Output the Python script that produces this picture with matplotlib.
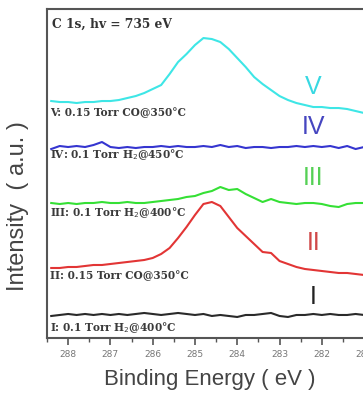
import numpy as np
import matplotlib.pyplot as plt

# binding energy grid (eV)
energy = [288.4, 288.2, 288.0, 287.8, 287.6, 287.4, 287.2, 287.0, 286.8, 286.6,
          286.4, 286.2, 286.0, 285.8, 285.6, 285.4, 285.2, 285.0, 284.8, 284.6,
          284.4, 284.2, 284.0, 283.8, 283.6, 283.4, 283.2, 283.0, 282.8, 282.6,
          282.4, 282.2, 282.0, 281.8, 281.6, 281.4, 281.2, 281.0, 280.8]

# stacked intensities (a.u., offsets included)
spec_v = [237, 236, 236, 235, 236, 236, 237, 237, 238, 240, 242, 245, 249, 253, 264,
          276, 284, 293, 300, 299, 296, 289, 280, 271, 261, 254, 248, 242, 238, 235,
          233, 231, 231, 230, 230, 229, 227, 225, 224]
spec_iv = [189, 192, 191, 192, 191, 193, 196, 191, 190, 191, 190, 191, 191, 192, 191,
           192, 191, 191, 192, 191, 193, 191, 192, 190, 191, 191, 190, 191, 191, 192,
           191, 192, 191, 192, 190, 192, 189, 191, 190]
spec_iii = [135, 134, 135, 134, 135, 135, 136, 135, 135, 136, 135, 135, 136, 137, 138,
            139, 141, 142, 145, 147, 151, 148, 149, 144, 140, 136, 139, 136, 135, 134,
            135, 135, 134, 132, 131, 134, 135, 135, 134]
spec_ii = [70, 70, 71, 71, 72, 73, 73, 74, 75, 76, 77, 78, 80, 84, 90, 100, 111, 123,
           134, 136, 132, 121, 110, 102, 94, 86, 85, 77, 74, 71, 69, 68, 67, 66, 65, 65,
           64, 63, 63]
spec_i = [22, 23, 24, 23, 24, 23, 24, 23, 24, 23, 24, 25, 24, 23, 24, 25, 24, 23, 24,
          22, 23, 22, 21, 23, 23, 24, 25, 22, 21, 23, 23, 24, 23, 24, 23, 23, 24, 23, 23]

conditions = ["V: 0.15 Torr CO@350°C", "IV: 0.1 Torr H$_2$@450°C",
              "III: 0.1 Torr H$_2$@400°C", "II: 0.15 Torr CO@350°C",
              "I: 0.1 Torr H$_2$@400°C"]
numerals = ["V", "IV", "III", "II", "I"]

series = [spec_v, spec_iv, spec_iii, spec_ii, spec_i]
line_colors = ["#3ee6e6", "#3535d0", "#35e035", "#e23535", "#2a2a2a"]
num_colors = ["#38d8e2", "#4646c0", "#55d055", "#d04848", "#222222"]
cond_y = [225, 183, 125, 62, 10]
num_y = [251, 211, 160, 95, 41]

fig = plt.figure(figsize=(3.63, 3.93), dpi=100)
ax = fig.add_axes([0.1295, 0.140, 0.8967, 0.837])

for vals, c in zip(series, line_colors):
    ax.plot(energy, vals, color=c, lw=1.5)

for txt, y in zip(conditions, cond_y):
    ax.text(288.42, y, txt, family="DejaVu Serif", fontweight="bold",
            fontsize=7.6, color="#3a3a3a", va="center", ha="left")
for txt, y, c in zip(numerals, num_y, num_colors):
    ax.text(282.2, y, txt, family="Liberation Sans", fontsize=18, color=c,
            va="center", ha="center")

ax.text(0.015, 0.955, "C 1s, hv = 735 eV", transform=ax.transAxes,
        family="DejaVu Serif", fontweight="bold", fontsize=8.8,
        color="#333333", va="center", ha="left")

ax.set_xlim(288.45, 280.8)
ax.set_ylim(0, 329)
ax.set_xticks(range(288, 280, -1))
ax.set_xticks(np.arange(288.5, 280.5, -0.5), minor=True)
ax.set_yticks([])
ax.tick_params(axis="x", which="major", direction="out", length=5, width=1.2,
               colors="#555555", labelsize=6.5, labelcolor="#777777", pad=4)
ax.tick_params(axis="x", which="minor", direction="out", length=3, width=1.0,
               colors="#555555")
for sp in ax.spines.values():
    sp.set_color("#555555")
    sp.set_linewidth(1.5)

ax.set_xlabel("Binding Energy ( eV )", family="Liberation Sans", fontsize=16,
              color="#444444", labelpad=7)
ax.set_ylabel("Intensity  ( a.u. )", family="Liberation Sans", fontsize=17,
              color="#444444")
ax.yaxis.set_label_coords(-0.055, 0.40)

fig.savefig("out.png", dpi=100)
